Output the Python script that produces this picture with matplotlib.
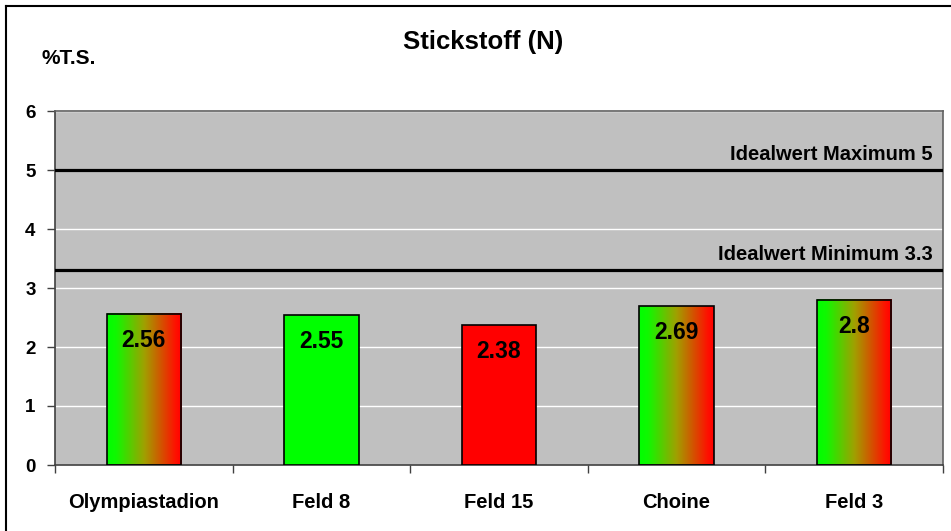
import numpy as np
import matplotlib.pyplot as plt
from matplotlib.colors import LinearSegmentedColormap
from matplotlib.lines import Line2D

plt.rcParams["font.family"] = ["Liberation Sans", "DejaVu Sans"]
plt.rcParams["font.weight"] = "bold"

orte = ["Olympiastadion", "Feld 8", "Feld 15", "Choine", "Feld 3"]
werte = [2.56, 2.55, 2.38, 2.69, 2.8]
fuellung = ["verlauf", "gruen", "rot", "verlauf", "verlauf"]
ideal_min = 3.3
ideal_max = 5

gruen_rot = LinearSegmentedColormap.from_list(
    "gruen_rot", [(0.0, "#00ff00"), (0.12, "#10f800"), (0.5, "#a0a000"), (0.92, "#ff1000"), (1.0, "#ff0000")]
)

fig = plt.figure(figsize=(9.51, 5.31), dpi=100)
ax = fig.add_axes([55 / 951, 1 - 465 / 531, 888 / 951, 354 / 531])
ax.set_facecolor("#c0c0c0")

x = np.arange(len(orte))
breite = 0.42
farben = {"gruen": "#00ff00", "rot": "#ff0000", "verlauf": "none"}
balken = ax.bar(x, werte, width=breite, color=[farben[f] for f in fuellung],
                edgecolor="black", linewidth=1.2, zorder=3)

verlauf = np.linspace(0, 1, 256).reshape(1, -1)
for b, f in zip(balken, fuellung):
    if f == "verlauf":
        x0 = b.get_x()
        ax.imshow(verlauf, cmap=gruen_rot, aspect="auto", zorder=2.5,
                  extent=(x0, x0 + b.get_width(), 0, b.get_height()), interpolation="bilinear")

for b, w in zip(balken, werte):
    ax.text(b.get_x() + b.get_width() / 2, w - 0.45, f"{w:g}", ha="center", va="center",
            fontsize=16.5, fontweight="bold", zorder=5)

ax.axhline(ideal_max, color="black", lw=2.3, zorder=4)
ax.axhline(ideal_min, color="black", lw=2.3, zorder=4)
ax.text(len(orte) - 0.5 - 0.06, ideal_max + 0.1, f"Idealwert Maximum {ideal_max:g}",
        ha="right", va="bottom", fontsize=14.5, fontweight="bold", zorder=5)
ax.text(len(orte) - 0.5 - 0.06, ideal_min + 0.1, f"Idealwert Minimum {ideal_min:g}",
        ha="right", va="bottom", fontsize=14.5, fontweight="bold", zorder=5)

ax.set_xlim(-0.5, len(orte) - 0.5)
ax.set_ylim(0, 6)
ax.set_yticks(range(7))
ax.set_yticklabels([str(i) for i in range(7)], fontsize=13.5, fontweight="bold")
ax.grid(axis="y", color="white", lw=1, zorder=1)
ax.set_axisbelow(True)

ax.set_xticks(x)
ax.set_xticklabels(orte, fontsize=14.5, fontweight="bold")
ax.tick_params(axis="x", length=0, pad=20)
ax.set_xticks(np.arange(-0.5, len(orte)), minor=True)
ax.tick_params(axis="x", which="minor", length=6, width=1, direction="out", color="#404040")
ax.tick_params(axis="y", length=6, width=1, direction="out", color="#404040", pad=8)

for s in ["left", "bottom"]:
    ax.spines[s].set_color("#404040")
    ax.spines[s].set_linewidth(1.2)
for s in ["top", "right"]:
    ax.spines[s].set_color("#606060")
    ax.spines[s].set_linewidth(1.2)

fig.text(483 / 951, 1 - 42 / 531, "Stickstoff (N)", ha="center", va="center", fontsize=18.5, fontweight="bold")
fig.text(41 / 951, 1 - 59 / 531, "%T.S.", ha="left", va="center", fontsize=15, fontweight="bold")

# Rahmen um das Diagramm (nur oben und links sichtbar)
fig.add_artist(Line2D([6 / 951, 1.01], [1 - 6 / 531, 1 - 6 / 531], color="black", lw=1.5))
fig.add_artist(Line2D([6 / 951, 6 / 951], [-0.01, 1 - 6 / 531], color="black", lw=1.5))

fig.savefig("out.png", dpi=100)
